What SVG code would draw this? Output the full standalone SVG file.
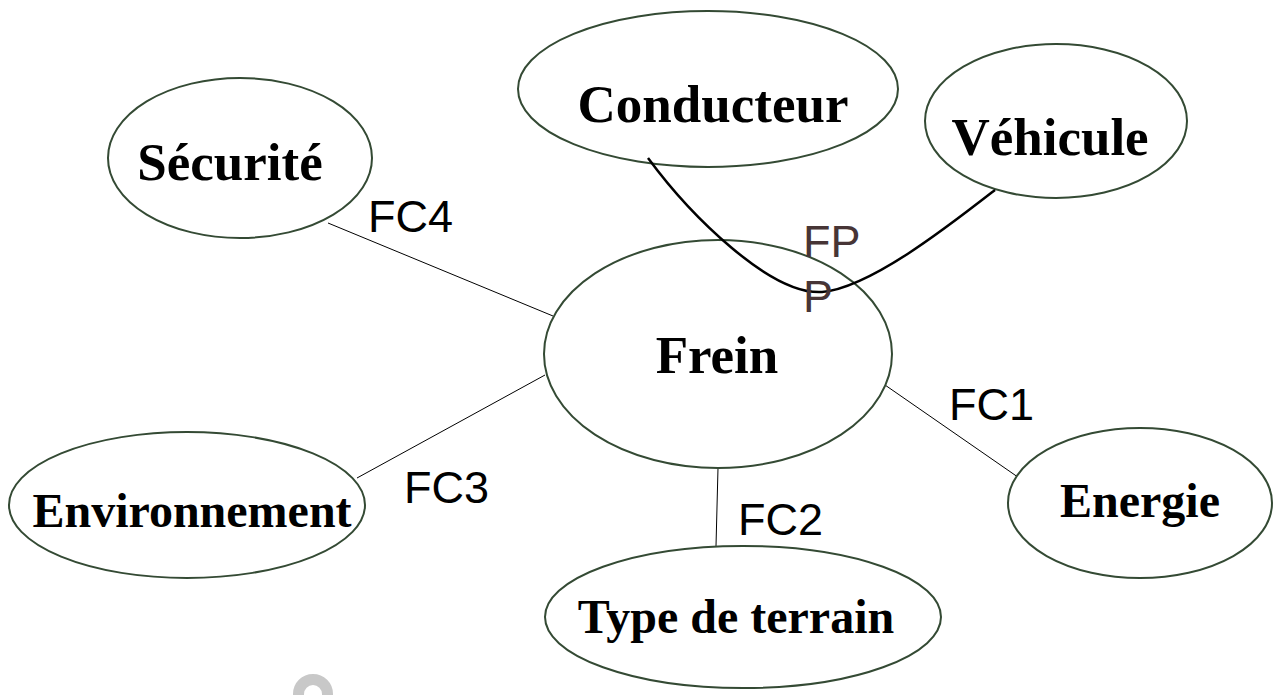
<svg xmlns="http://www.w3.org/2000/svg" width="1278" height="695" viewBox="0 0 1278 695">
  <style>
    .node ellipse { fill: #ffffff; stroke: #344a34; stroke-width: 2; }
    .name { font-family: "Liberation Serif", "Times New Roman", serif; font-weight: bold; fill: #000000; text-anchor: middle; }
    .big { font-size: 53px; }
    .mid { font-size: 48px; }
    .link { stroke: #000000; stroke-width: 1; fill: none; }
    .main { stroke: #000000; stroke-width: 2.5; fill: none; }
    .fc { font-family: "Liberation Sans", Arial, sans-serif; font-size: 45px; fill: #000000; }
    .fp { font-family: "Liberation Sans", Arial, sans-serif; font-size: 45px; fill: #473536; }
  </style>
  <rect width="1278" height="695" fill="#ffffff"/>

  <!-- connectors between the brake and its surroundings -->
  <g id="connectors">
    <line class="link" x1="328" y1="223" x2="553" y2="316"/>
    <line class="link" x1="357" y1="478" x2="545" y2="375"/>
    <line class="link" x1="885" y1="385" x2="1025" y2="482"/>
    <line class="link" x1="718" y1="468" x2="716" y2="546"/>
  </g>

  <g id="frein" class="node">
    <ellipse cx="718" cy="354" rx="174" ry="114"/>
    <text class="name big" x="717" y="373">Frein</text>
  </g>
  <g id="conducteur" class="node">
    <ellipse cx="708" cy="89" rx="190" ry="78"/>
    <text class="name big" x="713" y="122">Conducteur</text>
  </g>
  <g id="vehicule" class="node">
    <ellipse cx="1056" cy="121" rx="131" ry="77"/>
    <text class="name big" x="1050" y="155">Véhicule</text>
  </g>
  <g id="securite" class="node">
    <ellipse cx="240" cy="158" rx="132" ry="80"/>
    <text class="name big" x="230" y="180">Sécurité</text>
  </g>
  <g id="environnement" class="node">
    <ellipse cx="187" cy="505" rx="178" ry="73"/>
    <text class="name mid" x="192" y="527">Environnement</text>
  </g>
  <g id="energie" class="node">
    <ellipse cx="1140" cy="503" rx="132" ry="75"/>
    <text class="name mid" x="1140" y="517">Energie</text>
  </g>
  <g id="terrain" class="node">
    <ellipse cx="743" cy="617" rx="198" ry="71"/>
    <text class="name mid" x="736" y="633">Type de terrain</text>
  </g>

  <!-- main function: driver to vehicle through the brake -->
  <g id="fp-link">
    <path class="main" d="M648,158 C690,215 770,295 822,292 C870,288 950,225 995,190"/>
  </g>

  <g id="labels">
    <text class="fc" x="368" y="232">FC4</text>
    <text class="fc" x="949" y="420">FC1</text>
    <text class="fc" x="404" y="503">FC3</text>
    <text class="fc" x="738" y="535">FC2</text>
    <text class="fp" x="803" y="257">FP</text>
    <text class="fp" x="803" y="312">P</text>
  </g>

  <!-- faint mark near the bottom edge -->
  <circle cx="313" cy="694" r="14.5" fill="none" stroke="#c8c8c8" stroke-width="11"/>
</svg>
